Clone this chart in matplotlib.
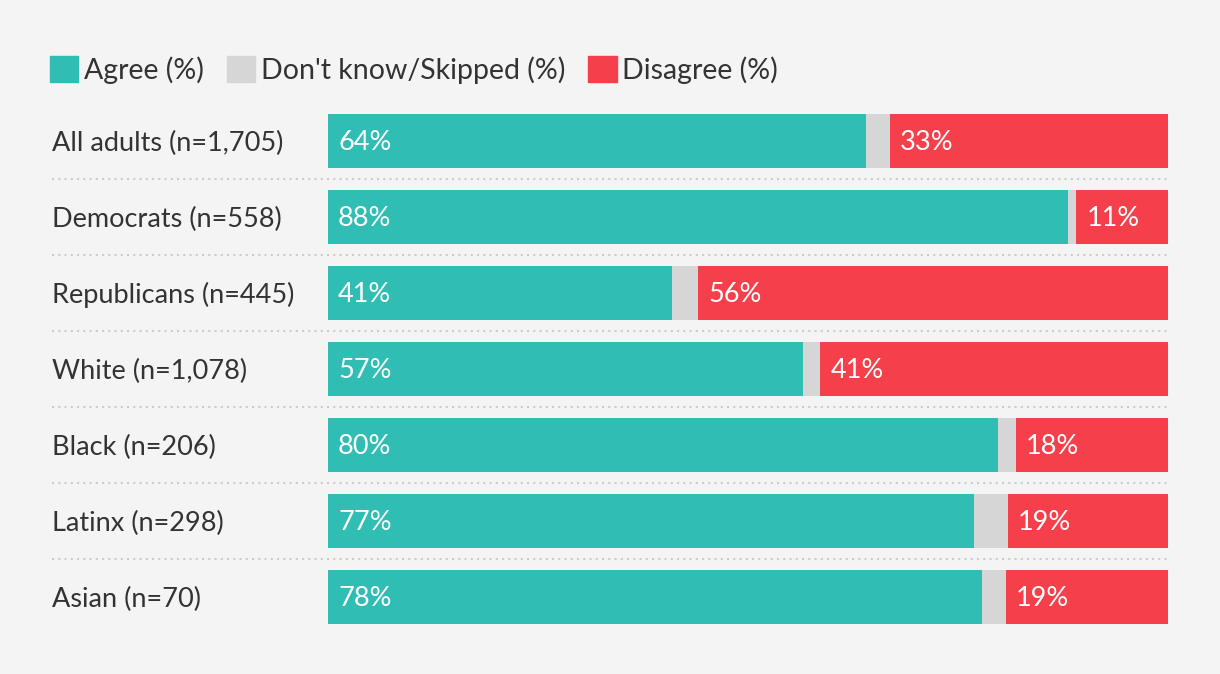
import numpy as np
import matplotlib
matplotlib.use("Agg")
import matplotlib.pyplot as plt
from matplotlib.patches import Patch
import matplotlib.transforms as mtransforms

plt.rcParams['font.family'] = ['Lato', 'DejaVu Sans']

groups = ["All adults (n=1,705)", "Democrats (n=558)", "Republicans (n=445)",
          "White (n=1,078)", "Black (n=206)", "Latinx (n=298)", "Asian (n=70)"]
agree = [64.0, 88.1, 41.0, 56.6, 79.8, 76.9, 77.9]
dont_know = [2.9, 1.0, 3.1, 2.0, 2.1, 4.0, 2.8]
disagree = [33.1, 10.9, 55.9, 41.4, 18.1, 19.1, 19.3]

c_agree = "#30bdb3"
c_dk = "#d6d6d6"
c_dis = "#f5404b"
bg = "#f4f4f4"
txt = "#333333"

fig = plt.figure(figsize=(12.2, 6.74), dpi=100, facecolor=bg)
ax = fig.add_axes([328 / 1220, 1 - 634.5 / 674, 840 / 1220, 532 / 674])
ax.set_facecolor(bg)

y = np.arange(len(groups))
agree = np.array(agree)
dont_know = np.array(dont_know)
disagree = np.array(disagree)

h = 54 / 76
ax.barh(y, agree, height=h, color=c_agree)
ax.barh(y, dont_know, left=agree, height=h, color=c_dk)
ax.barh(y, disagree, left=agree + dont_know, height=h, color=c_dis)

ax.set_xlim(0, 100)
ax.set_ylim(len(groups) - 0.5, -0.5)
ax.axis("off")

fs = 19.5
for i in range(len(groups)):
    ax.text(1.2, y[i], f"{agree[i]:.0f}%", color="white", fontsize=fs,
            va="center_baseline", ha="left")
    ax.text(agree[i] + dont_know[i] + 1.2, y[i], f"{disagree[i]:.0f}%", color="white",
            fontsize=fs, va="center_baseline", ha="left")

trans = mtransforms.blended_transform_factory(ax.transAxes, ax.transData)
x0 = (52 - 328) / 840
for i in range(len(groups)):
    ax.text(x0, y[i], groups[i], transform=trans, fontsize=fs, color=txt,
            va="center_baseline", ha="left")
for i in range(len(groups) - 1):
    ax.plot([x0, 1], [i + 0.5, i + 0.5], transform=trans, clip_on=False,
            color="#cccccc", lw=1.5, linestyle=(0, (1, 2)))

fig.legend(handles=[Patch(color=c_agree), Patch(color=c_dk), Patch(color=c_dis)],
           labels=["Agree (%)", "Don't know/Skipped (%)", "Disagree (%)"],
           loc="center left", bbox_to_anchor=(50 / 1220, 1 - 70 / 674), ncol=3,
           frameon=False, fontsize=20.5, handlelength=1.0, handleheight=1.0,
           handletextpad=0.2, columnspacing=0.8, labelcolor=txt, borderpad=0,
           borderaxespad=0)

fig.savefig("out.png", dpi=100, facecolor=bg)
